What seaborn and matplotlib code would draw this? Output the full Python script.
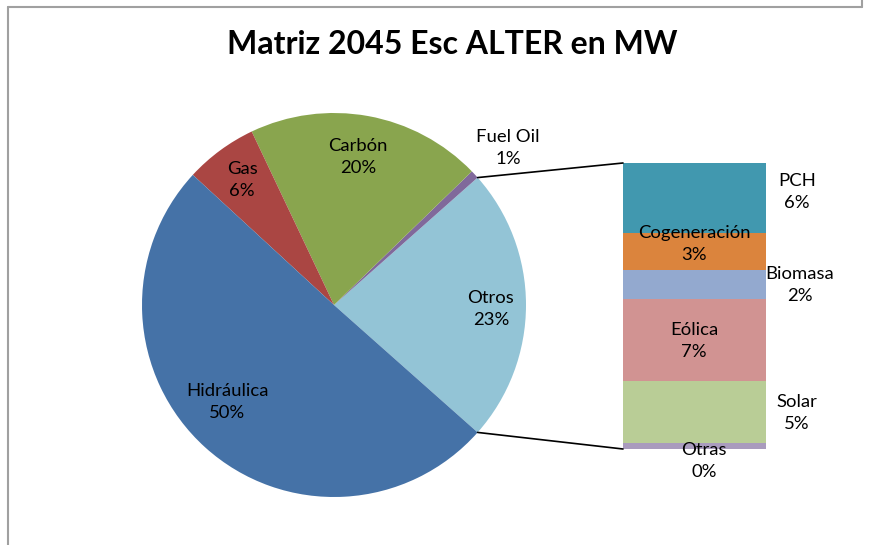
import matplotlib
matplotlib.use("Agg")
import matplotlib.pyplot as plt
import seaborn as sns
import numpy as np
import pandas as pd
from matplotlib.lines import Line2D

sns.set_theme(style="white")
plt.rcParams['font.family'] = ['Lato', 'DejaVu Sans']

# ---- data ----
pie_labels = ["Otros", "Fuel Oil", "Carbón", "Gas", "Hidráulica"]
pie_values = [23.1, 0.7, 19.8, 6.1, 50.3]
pie_colors = ["#93C4D6", "#80699B", "#89A54E", "#AA4643", "#4572A7"]

sub_labels = ["PCH", "Cogeneración", "Biomasa", "Eólica", "Solar", "Otras"]
sub_values = [5.65, 2.99, 2.34, 6.63, 5.01, 0.48]
sub_colors = ["#4198AF", "#DB843D", "#93A9CF", "#D19392", "#B9CD96", "#A99BBD"]

title = "Matriz 2045 Esc ALTER en MW"

W, H = 874, 545
fig = plt.figure(figsize=(W / 100, H / 100), dpi=100)

# bar of pie (separate axes, drawn below the main overlay axes)
bx0, bx1, by0, by1 = 623, 766, 163, 449
bax = fig.add_axes([bx0 / W, 1 - by1 / H, (bx1 - bx0) / W, (by1 - by0) / H], zorder=1)
order = list(range(len(sub_labels)))[::-1]   # bottom to top: Otras ... PCH
cum = np.cumsum([sub_values[i] for i in order])
for k in range(len(order) - 1, -1, -1):
    i = order[k]
    df = pd.DataFrame({"x": ["s"], "y": [cum[k]]})
    sns.barplot(data=df, x="x", y="y", color=sub_colors[i], saturation=1,
                width=1.0, ax=bax, linewidth=0)
bax.set_ylim(0, cum[-1])
bax.set_xlim(-0.5, 0.5)
bax.axis("off")

ax = fig.add_axes([0, 0, 1, 1], zorder=2)
ax.patch.set_alpha(0)

# pie (pixel coordinates, y up)
cx, cy, R = 334, H - 305, 192
otros_share = pie_values[0] / sum(pie_values) * 360
wedges, _ = ax.pie(pie_values, colors=pie_colors, startangle=-otros_share / 2,
                   counterclock=True, center=(cx, cy), radius=R, frame=True,
                   wedgeprops=dict(linewidth=0))
ax.set_xlim(0, W)
ax.set_ylim(0, H)
ax.set_aspect("auto")
ax.axis("off")

def pct(v):
    return f"{round(v):d}%"

FS = 13.3
LS = 1.5
pie_label_pos = {"Otros": (491, 309), "Fuel Oil": (508, 148), "Carbón": (358, 157),
                 "Gas": (242, 180), "Hidráulica": (227, 402)}
for lab, val in zip(pie_labels, pie_values):
    x, y = pie_label_pos[lab]
    ax.text(x, H - y, f"{lab}\n{pct(val)}", ha="center", va="center",
            fontsize=FS, color="black", linespacing=LS)

sub_label_pos = {"PCH": (797, 192), "Cogeneración": (694, 244), "Biomasa": (800, 285),
                 "Eólica": (694, 341), "Solar": (797, 413), "Otras": (704, 461)}
for lab, val in zip(sub_labels, sub_values):
    x, y = sub_label_pos[lab]
    ax.text(x, H - y, f"{lab}\n{pct(val)}", ha="center", va="center",
            fontsize=FS, color="black", linespacing=LS, zorder=10)

# connector lines from pie edges of "Otros" to bar corners
a1 = np.deg2rad(otros_share / 2)
a2 = np.deg2rad(-otros_share / 2)
ax.add_line(Line2D([cx + R * np.cos(a1), bx0], [cy + R * np.sin(a1), H - by0],
                   color="black", lw=1.2))
ax.add_line(Line2D([cx + R * np.cos(a2), bx0], [cy + R * np.sin(a2), H - by1],
                   color="black", lw=1.2))

# title
ax.text(452, H - 45, title, ha="center", va="center", fontsize=23,
        fontweight="bold", color="black")

# chart frame
ax.add_line(Line2D([8, 8], [0, H - 7], color="#A0A0A0", lw=1.5))
ax.add_line(Line2D([8, 862], [H - 7, H - 7], color="#A0A0A0", lw=1.5))
ax.add_line(Line2D([862, 862], [H - 7, H], color="#A0A0A0", lw=1.5))

fig.savefig("out.png", dpi=100)
